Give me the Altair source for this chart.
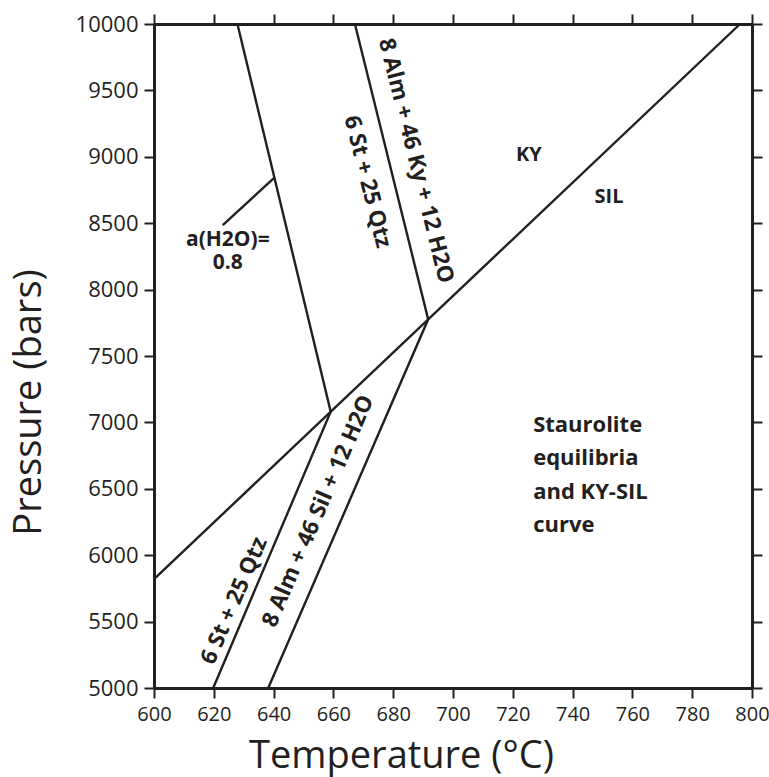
import altair as alt
import pandas as pd

# ---- data (Temperature in °C, Pressure in bars) ----
kysil_T = [600.0, 796.0]
kysil_P = [5820, 10000]
st_T = [627.9, 659.1, 619.8]
st_P = [10000, 7081, 5000]
alm_T = [667.2, 691.7, 638.2]
alm_P = [10000, 7776, 5000]
ptr_T = [623.0, 640.1]
ptr_P = [8486, 8840]

x_ticks = list(range(600, 801, 20))
y_ticks = list(range(5000, 10001, 500))

down_labels = ["8 Alm + 46 Ky + 12 H2O", "6 St + 25 Qtz"]
down_T = [687.6, 671.4]
down_P = [8970, 8812]

up_labels = ["6 St + 25 Qtz", "8 Alm + 46 Sil + 12 H2O"]
up_T = [626.8, 654.9]
up_P = [5657, 6331]

phase_labels = ["KY", "SIL"]
phase_T = [725.4, 752.2]
phase_P = [9014, 8697]

aw_label = "a(H2O)=\n0.8"
aw_T = [624.7]
aw_P = [8330]

note_label = "Staurolite\nequilibria\nand KY-SIL\ncurve"
note_T = [726.8]
note_P = [6928]

# ---- tables ----
rows = []
for cid, (ts, ps) in enumerate([(kysil_T, kysil_P), (st_T, st_P), (alm_T, alm_P), (ptr_T, ptr_P)]):
    for i, (t, p) in enumerate(zip(ts, ps)):
        rows.append({"curve": cid, "order": i, "T": t, "P": p})
lines_df = pd.DataFrame(rows)

down_df = pd.DataFrame({"label": down_labels, "T": down_T, "P": down_P})
up_df = pd.DataFrame({"label": up_labels, "T": up_T, "P": up_P})
phase_df = pd.DataFrame({"label": phase_labels, "T": phase_T, "P": phase_P})
aw_df = pd.DataFrame({"label": [aw_label], "T": aw_T, "P": aw_P})
note_df = pd.DataFrame({"label": [note_label], "T": note_T, "P": note_P})

INK = "#231f20"
xs = alt.Scale(domain=[600, 800], nice=False, zero=False)
ys = alt.Scale(domain=[5000, 10000], nice=False, zero=False)

common_axis = dict(grid=False, domainColor=INK, domainWidth=3, tickColor=INK, tickWidth=2,
                   tickSize=10, labelFont="Open Sans", labelColor=INK,
                   labelFlush=False, labelOverlap=False,
                   titleFont="Open Sans", titleFontSize=38, titleFontWeight="normal",
                   titleColor=INK)

x_bottom = alt.Axis(orient="bottom", values=x_ticks, format="d", labelPadding=6,
                    labelFontSize=20,
                    title="Temperature (°C)", titleX=247, titleY=79, titleAlign="center",
                    titleBaseline="alphabetic", **common_axis)
y_left = alt.Axis(orient="left", values=y_ticks, format="d", labelPadding=6,
                  labelFontSize=22,
                  title="Pressure (bars)", titleAngle=270, titleX=-114, titleY=378,
                  titleAlign="center", titleBaseline="alphabetic", **common_axis)
x_top = alt.Axis(orient="top", values=x_ticks, labels=False, title=None, grid=False,
                 domainColor=INK, domainWidth=3, tickColor=INK, tickWidth=2, tickSize=10)
y_right = alt.Axis(orient="right", values=y_ticks, labels=False, title=None, grid=False,
                   domainColor=INK, domainWidth=3, tickColor=INK, tickWidth=2, tickSize=10)

curves = alt.Chart(lines_df).mark_line(color=INK, strokeWidth=2.4).encode(
    x=alt.X("T:Q", scale=xs, axis=x_bottom),
    y=alt.Y("P:Q", scale=ys, axis=y_left),
    detail="curve:N",
    order="order:Q",
)

frame = alt.Chart(lines_df).mark_point(opacity=0).encode(
    x=alt.X("T:Q", scale=xs, axis=x_top),
    y=alt.Y("P:Q", scale=ys, axis=y_right),
)


def text_layer(df, **kw):
    base = dict(font="Open Sans", fontWeight="bold", color=INK)
    base.update(kw)
    return alt.Chart(df).mark_text(**base).encode(
        x=alt.X("T:Q", scale=xs, axis=None),
        y=alt.Y("P:Q", scale=ys, axis=None),
        text="label:N",
    )


t_down = text_layer(down_df, angle=76, fontSize=22.5, align="center", baseline="middle")
t_up = text_layer(up_df, angle=293.3, fontSize=22.5, align="center", baseline="middle")
t_phase = text_layer(phase_df, fontSize=20, align="center", baseline="middle")
t_aw = text_layer(aw_df, fontSize=21, align="center", baseline="alphabetic",
                  lineBreak="\n", lineHeight=23)
t_note = text_layer(note_df, fontSize=22, align="left", baseline="alphabetic",
                    lineBreak="\n", lineHeight=33.3)

chart = alt.layer(curves, frame, t_down, t_up, t_phase, t_aw, t_note).resolve_axis(
    x="independent", y="independent"
).properties(
    width=598,
    height=664,
    padding={"left": 154, "top": 24, "right": 17, "bottom": 89},
    autosize=alt.AutoSizeParams(type="none"),
    background="white",
).configure_view(strokeOpacity=0)

chart.save("out.html", embed_options={"renderer": "svg", "actions": False})
